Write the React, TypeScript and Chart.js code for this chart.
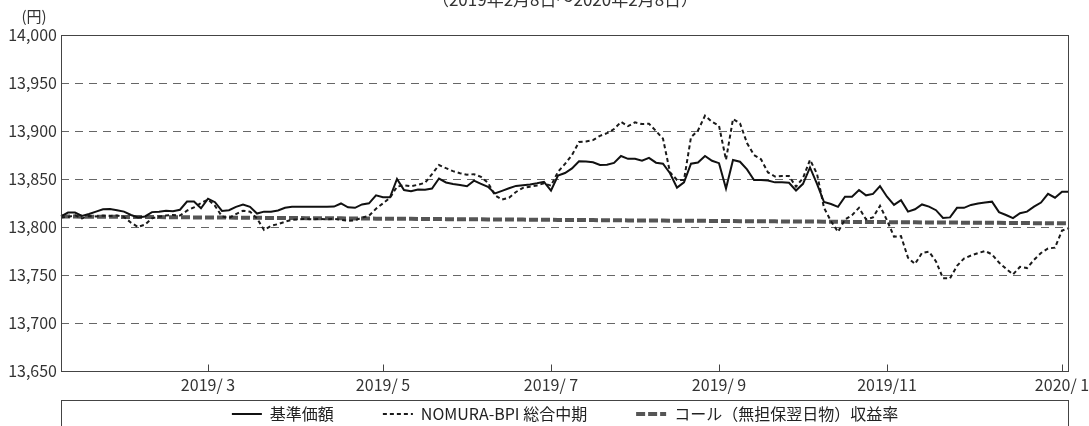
import React, { useEffect, useRef } from 'react';
import { Chart, registerables } from 'chart.js';

Chart.register(...registerables);

const FONT = '"Noto Sans CJK JP", "Noto Sans", sans-serif';
const TITLE = '（2019年2月8日～2020年2月8日）';
const UNIT = '(円)';

// x categories: each period starts with its month label
const periodLabels = ['', '2019/ 3', '2019/ 5', '2019/ 7', '2019/ 9', '2019/11', '2020/ 1'];
const periodLengths = [21, 25, 24, 24, 24, 25, 2];

const seriesNames = ['基準価額', 'NOMURA-BPI 総合中期', 'コール（無担保翌日物）収益率'];

const navValues = [
  13811, 13815, 13815, 13811.5, 13813.5, 13816, 13818.4, 13818.7, 13817.5, 13816,
  13812.5, 13810, 13811, 13815.5, 13816, 13817, 13816.4, 13818, 13826.5, 13826.6,
  13819.5, 13829.5, 13825.8, 13816.8, 13817.5, 13821, 13823.3, 13821, 13814, 13816,
  13816, 13817.2, 13820, 13821, 13821, 13821, 13821, 13821, 13821, 13821.3,
  13824.5, 13820.5, 13820, 13823.5, 13824.7, 13833, 13831, 13831, 13850, 13838.5,
  13837.3, 13839, 13838.7, 13840, 13850.5, 13846.4, 13844.8, 13843.8, 13842.5, 13848.3,
  13845, 13841.8, 13835, 13837.6, 13840.3, 13842.8, 13843.5, 13844.3, 13845.5, 13847,
  13838, 13853.5, 13856.2, 13861, 13868.5, 13868.2, 13867.5, 13864.6, 13864.8, 13866.8,
  13874, 13871, 13871, 13869.1, 13872, 13867, 13866, 13856, 13841, 13846.5,
  13866, 13867.2, 13874, 13869, 13866.5, 13840, 13869.8, 13868, 13860, 13849,
  13849, 13848.5, 13846.5, 13846.5, 13846, 13838, 13845, 13862, 13845, 13826,
  13824, 13821, 13831.5, 13831.5, 13838.5, 13833, 13834.5, 13842.5, 13831.5, 13823,
  13828, 13816, 13818.5, 13823.5, 13821.2, 13817.5, 13809.5, 13810, 13820, 13820,
  13823, 13824.4, 13825.5, 13826.4, 13815.5, 13812.5, 13809.2, 13814.3, 13816, 13821.2,
  13825.5, 13834.5, 13830.5, 13836.8, 13836.8,
];

const bpiValues = [
  13810, 13810.5, 13812.3, 13809, 13811.5, 13811, 13812, 13811.5, 13812, 13810.5,
  13804.5, 13800, 13802.5, 13809, 13810.7, 13812, 13812.5, 13812, 13817, 13820.5,
  13825, 13828.7, 13822, 13811, 13809.3, 13813.5, 13817, 13816, 13809, 13797,
  13801.2, 13803, 13805.5, 13807.5, 13808, 13808.5, 13808, 13808.5, 13808, 13808.5,
  13807.5, 13806.5, 13807, 13809.8, 13811.7, 13819, 13824.6, 13830.5, 13842, 13843.5,
  13842.5, 13844, 13846, 13855, 13864.6, 13861.3, 13858.2, 13856, 13854.5, 13855,
  13852.2, 13846, 13833, 13828.5, 13830.5, 13836.5, 13840.8, 13842, 13843.3, 13845.5,
  13843, 13857.6, 13865.7, 13875, 13888.5, 13889, 13890.5, 13895, 13897.7, 13902,
  13909.5, 13905, 13909, 13907.2, 13907.5, 13900, 13892, 13857, 13849, 13849,
  13893.5, 13900.5, 13916, 13909.5, 13905.5, 13870, 13912.5, 13908, 13887.5, 13875,
  13870.5, 13856.8, 13852.5, 13853, 13853, 13842, 13851, 13870, 13855.5, 13820,
  13806, 13795, 13807.8, 13812.3, 13820, 13808, 13810, 13822, 13807, 13790,
  13790.5, 13768, 13761.5, 13773, 13774.3, 13764.2, 13746.5, 13746.5, 13759.5, 13767.2,
  13770.3, 13772.8, 13775, 13771.5, 13763, 13756.5, 13750.6, 13758.5, 13757.2, 13765.8,
  13772.9, 13777.6, 13778.5, 13796.2, 13798.8,
];

const callValues = [
  13811.0, 13810.9, 13810.9, 13810.8, 13810.8, 13810.7, 13810.7, 13810.6, 13810.6, 13810.5,
  13810.5, 13810.4, 13810.4, 13810.3, 13810.3, 13810.2, 13810.2, 13810.1, 13810.1, 13810.0,
  13810.0, 13809.9, 13809.9, 13809.8, 13809.8, 13809.7, 13809.7, 13809.6, 13809.6, 13809.5,
  13809.5, 13809.4, 13809.4, 13809.3, 13809.3, 13809.2, 13809.2, 13809.1, 13809.1, 13809.0,
  13809.0, 13808.9, 13808.9, 13808.8, 13808.8, 13808.7, 13808.7, 13808.6, 13808.6, 13808.5,
  13808.5, 13808.4, 13808.4, 13808.3, 13808.3, 13808.2, 13808.2, 13808.1, 13808.1, 13808.0,
  13808.0, 13807.9, 13807.9, 13807.8, 13807.8, 13807.7, 13807.7, 13807.6, 13807.6, 13807.5,
  13807.5, 13807.4, 13807.4, 13807.3, 13807.3, 13807.2, 13807.2, 13807.1, 13807.1, 13807.0,
  13807.0, 13806.9, 13806.9, 13806.8, 13806.8, 13806.7, 13806.7, 13806.6, 13806.6, 13806.5,
  13806.5, 13806.4, 13806.4, 13806.3, 13806.3, 13806.2, 13806.2, 13806.1, 13806.1, 13806.0,
  13806.0, 13805.9, 13805.9, 13805.8, 13805.8, 13805.7, 13805.7, 13805.6, 13805.6, 13805.5,
  13805.5, 13805.4, 13805.4, 13805.3, 13805.3, 13805.2, 13805.2, 13805.1, 13805.1, 13805.0,
  13805.0, 13804.9, 13804.9, 13804.8, 13804.8, 13804.7, 13804.7, 13804.6, 13804.6, 13804.5,
  13804.5, 13804.4, 13804.4, 13804.3, 13804.3, 13804.2, 13804.2, 13804.1, 13804.1, 13804.0,
  13804.0, 13803.9, 13803.9, 13803.8, 13803.8,
];

const yMin = 13650;
const yMax = 14000;
const yStep = 50;

const categories: string[] = periodLabels.flatMap((label, p) =>
  Array.from({ length: periodLengths[p] }, (_, k) => (k === 0 ? label : ''))
);

const LEGEND_PAD = 49;

const decorPlugin = {
  id: 'decor',
  beforeLayout(chart: any) {
    const lg = chart.legend;
    if (lg && !lg.__patched) {
      const orig = lg.fit;
      lg.fit = function () {
        orig.call(this);
        this.height = 26;
      };
      lg.__patched = true;
    }
  },
  beforeDraw(chart: any) {
    const lg = chart.legend;
    const ca = chart.chartArea;
    const xs = chart.scales.x;
    if (lg) {
      lg.left = ca.left;
      lg.right = ca.right;
      lg.width = ca.right - ca.left;
      lg.top = xs.bottom + 6 - LEGEND_PAD;
      lg.bottom = chart.height;
      lg.height = lg.bottom - lg.top;
    }
  },
  afterDraw(chart: any) {
    const { ctx, chartArea: ca } = chart;
    const xs = chart.scales.x;
    const L = Math.round(ca.left) + 0.5;
    const R = Math.round(ca.right) - 0.5;
    const T = Math.round(ca.top) + 0.5;
    const B = Math.round(ca.bottom) + 0.5;
    ctx.save();
    ctx.setLineDash([]);
    ctx.strokeStyle = '#444';
    ctx.lineWidth = 1;
    ctx.strokeRect(L, T, R - L, B - T);
    ctx.beginPath();
    xs.ticks.forEach((t: any, i: number) => {
      if (t.label) {
        const px = Math.round(xs.getPixelForTick(i)) + 0.5;
        ctx.moveTo(px, B);
        ctx.lineTo(px, B - 7);
      }
    });
    ctx.stroke();
    const lt = Math.round(xs.bottom) + 0.5;
    ctx.strokeRect(L, lt, R - L, 80);
    ctx.fillStyle = '#333';
    ctx.font = `17px ${FONT}`;
    ctx.textAlign = 'center';
    ctx.textBaseline = 'alphabetic';
    ctx.fillText(TITLE, (ca.left + ca.right) / 2, 6);
    ctx.font = `15px ${FONT}`;
    ctx.textBaseline = 'middle';
    ctx.fillText(UNIT, 34, 16);
    ctx.restore();
  },
};

export default function App() {
  const ref = useRef<HTMLCanvasElement | null>(null);

  useEffect(() => {
    document.body.style.margin = '0';
    const canvas = ref.current;
    if (!canvas) return;
    const chart = new Chart(canvas, {
      type: 'line',
      data: {
        labels: categories,
        datasets: [
          {
            label: seriesNames[0],
            data: navValues,
            borderColor: '#111',
            backgroundColor: '#111',
            borderWidth: 2,
            pointRadius: 0,
            tension: 0,
          },
          {
            label: seriesNames[1],
            data: bpiValues,
            borderColor: '#1a1a1a',
            backgroundColor: '#1a1a1a',
            borderWidth: 2,
            borderDash: [4, 3],
            pointRadius: 0,
            tension: 0,
          },
          {
            label: seriesNames[2],
            data: callValues,
            borderColor: '#555',
            backgroundColor: '#555',
            borderWidth: 4,
            borderDash: [9, 3],
            pointRadius: 0,
            tension: 0,
          },
        ],
      },
      options: {
        responsive: false,
        animation: false,
        devicePixelRatio: 1,
        layout: { padding: { top: 35, right: 20, bottom: 0, left: 0 } },
        plugins: {
          title: { display: false },
          tooltip: { enabled: false },
          legend: {
            position: 'bottom',
            labels: {
              usePointStyle: true,
              pointStyle: 'line',
              pointStyleWidth: 30,
              boxHeight: 8,
              padding: LEGEND_PAD,
              color: '#222',
              font: { family: FONT, size: 16 },
              generateLabels: (chart: any) => {
                const items = Chart.defaults.plugins.legend.labels.generateLabels(chart);
                items.forEach((it: any) => {
                  const ds: any = chart.data.datasets[it.datasetIndex];
                  it.lineDash = ds.borderDash || [];
                  it.lineWidth = ds.borderWidth;
                  it.strokeStyle = ds.borderColor;
                  it.fillStyle = ds.borderColor;
                  it.pointStyle = 'line';
                });
                return items;
              },
            },
          },
        },
        scales: {
          x: {
            type: 'category',
            afterFit: (s: any) => {
              s.height = 29;
            },
            grid: { display: false, drawTicks: false },
            border: { display: false },
            ticks: {
              autoSkip: false,
              maxRotation: 0,
              minRotation: 0,
              padding: 4,
              color: '#333',
              font: { family: FONT, size: 16 },
              callback: (_v: any, i: number) => categories[i],
            },
          },
          y: {
            min: yMin,
            max: yMax,
            afterFit: (s: any) => {
              s.width = 61;
            },
            grid: { color: '#666', lineWidth: 1, drawTicks: false },
            border: { display: false, dash: [8, 6] },
            ticks: {
              stepSize: yStep,
              padding: 4,
              color: '#333',
              font: { family: FONT, size: 16 },
              callback: (v: any) => Number(v).toLocaleString('en-US'),
            },
          },
        },
      },
      plugins: [decorPlugin],
    } as any);
    return () => chart.destroy();
  }, []);

  return <canvas ref={ref} width={1089} height={426} style={{ display: 'block' }} />;
}
